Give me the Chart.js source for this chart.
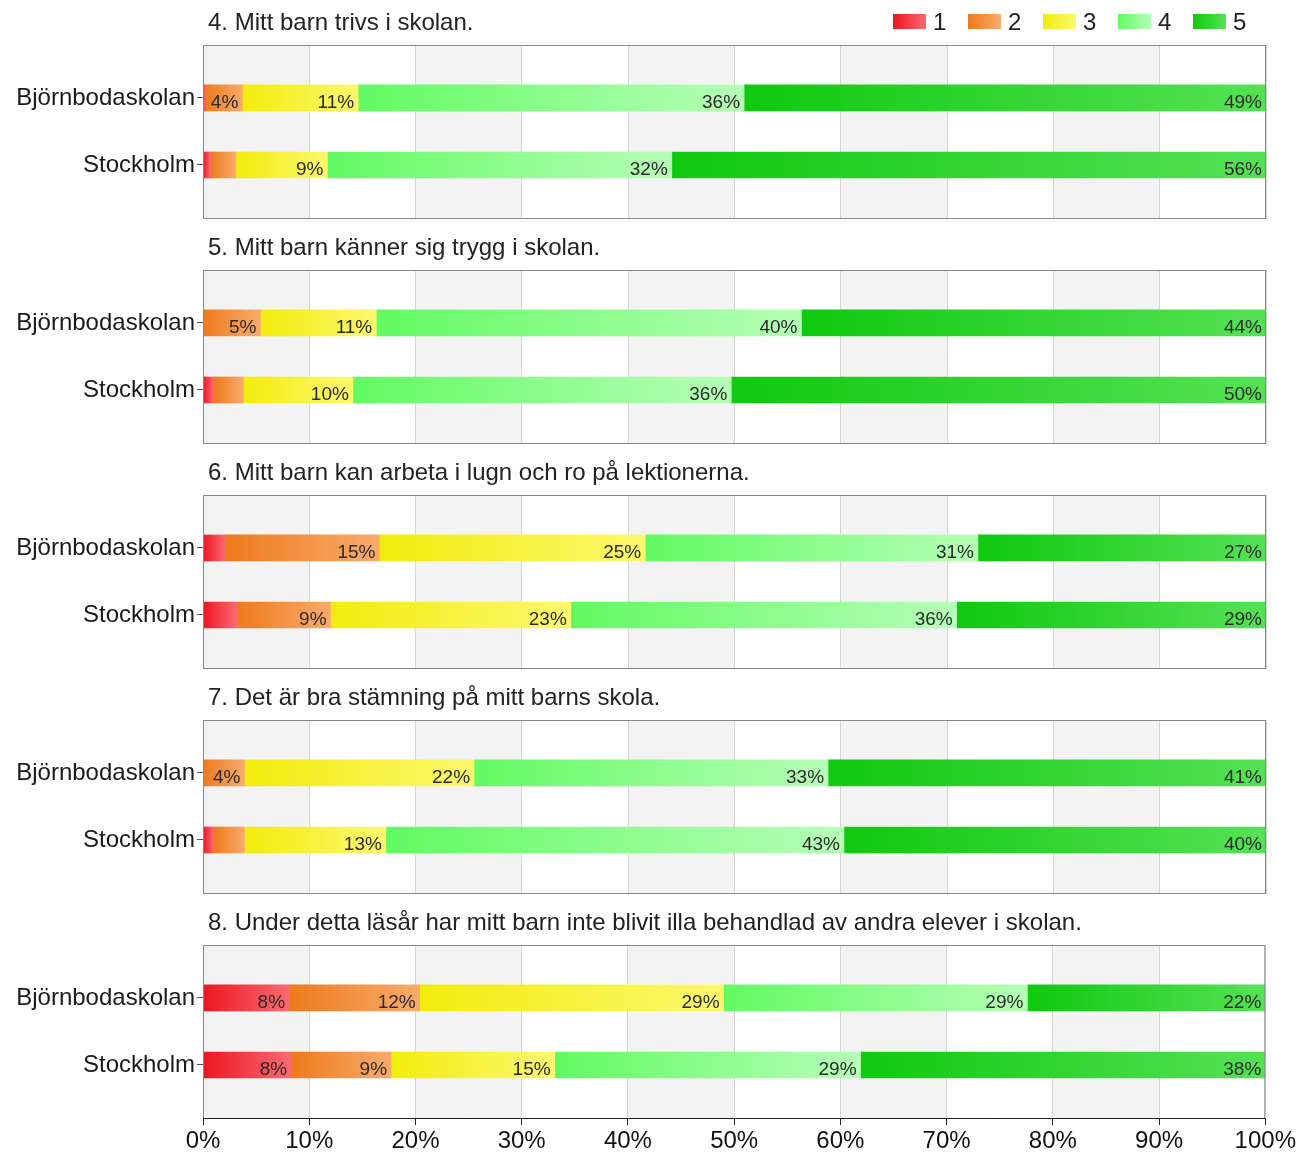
<!DOCTYPE html>
<html lang="sv">
<head>
<meta charset="utf-8">
<title>Enkät</title>
<script src="https://cdn.jsdelivr.net/npm/chart.js@4/dist/chart.umd.min.js"></script>
<style>
  body { margin: 0; background: #fff; }
  #wrap { position: relative; width: 1298px; height: 1153px; }
  #wrap canvas { position: absolute; left: 0; }
</style>
</head>
<body>
<div id="wrap"></div>
<script>
// === Data ===
const titles = [
  '4. Mitt barn trivs i skolan.',
  '5. Mitt barn känner sig trygg i skolan.',
  '6. Mitt barn kan arbeta i lugn och ro på lektionerna.',
  '7. Det är bra stämning på mitt barns skola.',
  '8. Under detta läsår har mitt barn inte blivit illa behandlad av andra elever i skolan.'
];
const groups = ['Björnbodaskolan', 'Stockholm'];
const answers = ['1', '2', '3', '4', '5'];
const xTicks = [0, 10, 20, 30, 40, 50, 60, 70, 80, 90, 100];

// share of answers 1..5 in percent
const q4Bjorn = [0.2, 3.5, 10.9, 36.3, 49.1];
const q4Sthlm = [0.7, 2.4, 8.6, 32.4, 55.9];
const q5Bjorn = [0, 5.4, 10.9, 40.0, 43.7];
const q5Sthlm = [1.0, 2.8, 10.3, 35.6, 50.3];
const q6Bjorn = [2.1, 14.5, 25.0, 31.3, 27.1];
const q6Sthlm = [3.2, 8.8, 22.6, 36.3, 29.1];
const q7Bjorn = [0, 3.9, 21.6, 33.3, 41.2];
const q7Sthlm = [1.0, 2.9, 13.3, 43.1, 39.7];
const q8Bjorn = [8.1, 12.3, 28.6, 28.6, 22.4];
const q8Sthlm = [8.3, 9.4, 15.4, 28.8, 38.1];

const panels = [
  [q4Bjorn, q4Sthlm],
  [q5Bjorn, q5Sthlm],
  [q6Bjorn, q6Sthlm],
  [q7Bjorn, q7Sthlm],
  [q8Bjorn, q8Sthlm]
];

// === Styles ===
const FONT = "'Liberation Sans', Arial, sans-serif";
const colorPairs = [
  ['#ec1620', '#fb6a74'],
  ['#ee7a1c', '#f8ab6c'],
  ['#f2ec0c', '#fcf86e'],
  ['#62fa62', '#b6ffb6'],
  ['#0fc90f', '#55e255']
];
const PANEL_H = 225;
const LAST_H = 253;

function makeGradient(ctx, x0, x1, pair) {
  const g = ctx.createLinearGradient(x0, 0, x1, 0);
  g.addColorStop(0, pair[0]);
  g.addColorStop(1, pair[1]);
  return g;
}

// stripes behind the bars + frame around the plot
const plotFrame = {
  id: 'plotFrame',
  beforeDraw(chart) {
    const { ctx, chartArea, scales } = chart;
    ctx.save();
    ctx.fillStyle = '#f3f3f3';
    for (let v = 0; v < 100; v += 20) {
      const a = scales.x.getPixelForValue(v);
      const b = scales.x.getPixelForValue(v + 10);
      ctx.fillRect(a, chartArea.top, b - a, chartArea.bottom - chartArea.top);
    }
    ctx.restore();
  },
  afterDatasetsDraw(chart, args, opts) {
    const { ctx, chartArea } = chart;
    ctx.save();
    ctx.strokeStyle = '#888';
    ctx.lineWidth = 1;
    ctx.strokeRect(chartArea.left + 0.5, chartArea.top + 0.5,
      chartArea.right - chartArea.left - 1, chartArea.bottom - chartArea.top - 1);
    if (opts.last) {
      ctx.strokeStyle = '#222';
      ctx.beginPath();
      ctx.moveTo(chartArea.left, chartArea.bottom - 0.5);
      ctx.lineTo(chartArea.right, chartArea.bottom - 0.5);
      ctx.stroke();
    }
    ctx.restore();
  }
};

// percentage labels at the right end of each segment
const valueLabels = {
  id: 'valueLabels',
  afterDatasetsDraw(chart) {
    const { ctx } = chart;
    ctx.save();
    ctx.font = '19px ' + FONT;
    ctx.fillStyle = '#2a2a2a';
    ctx.textAlign = 'right';
    ctx.textBaseline = 'alphabetic';
    chart.data.datasets.forEach((ds, di) => {
      chart.getDatasetMeta(di).data.forEach((bar, i) => {
        const pct = Math.round(ds.data[i].x);
        if (pct < 4) return;
        ctx.fillText(pct + '%', bar.x - 4, bar.y + 10);
      });
    });
    ctx.restore();
  }
};

// question title and (first panel only) legend
const header = {
  id: 'header',
  afterDraw(chart, args, opts) {
    const { ctx } = chart;
    ctx.save();
    ctx.font = '24px ' + FONT;
    ctx.fillStyle = '#222';
    ctx.textBaseline = 'alphabetic';
    ctx.fillText(opts.title, 208, 30);
    if (opts.legend) {
      answers.forEach((a, i) => {
        const x = 893 + i * 75;
        ctx.fillStyle = makeGradient(ctx, x, x + 33, colorPairs[i]);
        ctx.fillRect(x, 14, 33, 15);
        ctx.fillStyle = '#222';
        ctx.fillText(a, x + 40, 30);
      });
    }
    ctx.restore();
  }
};

const wrap = document.getElementById('wrap');

panels.forEach((rows, p) => {
  const last = p === panels.length - 1;
  const canvas = document.createElement('canvas');
  canvas.width = 1298;
  canvas.height = last ? LAST_H : PANEL_H;
  canvas.style.top = (p * PANEL_H) + 'px';
  wrap.appendChild(canvas);

  const datasets = answers.map((a, k) => ({
    label: a,
    data: groups.map((g, gi) => ({ x: rows[gi][k], y: gi })),
    barThickness: 26,
    borderWidth: 0,
    backgroundColor: (c) => {
      const chart = c.chart;
      if (!chart.chartArea || c.dataIndex === undefined) return colorPairs[k][0];
      const row = rows[c.dataIndex];
      const start = row.slice(0, k).reduce((s, v) => s + v, 0);
      const x0 = chart.scales.x.getPixelForValue(start);
      const x1 = chart.scales.x.getPixelForValue(start + row[k]);
      return makeGradient(chart.ctx, x0, x1 > x0 ? x1 : x0 + 1, colorPairs[k]);
    }
  }));

  new Chart(canvas, {
    type: 'bar',
    data: { datasets },
    options: {
      indexAxis: 'y',
      responsive: false,
      animation: false,
      layout: { padding: { top: 45, right: 32, left: 0, bottom: 0 } },
      plugins: {
        legend: { display: false },
        tooltip: { enabled: false },
        header: { title: titles[p], legend: p === 0 },
        plotFrame: { last }
      },
      scales: {
        x: {
          type: 'linear',
          min: 0,
          max: 100,
          stacked: true,
          border: { display: false },
          grid: { color: '#d6d6d6', drawTicks: last, tickLength: 6, tickColor: '#222' },
          afterBuildTicks: (s) => { s.ticks = xTicks.map(v => ({ value: v })); },
          ticks: {
            display: last,
            autoSkip: false,
            maxRotation: 0,
            padding: 2,
            color: '#111',
            font: { family: FONT, size: 24 },
            callback: (v) => v + '%'
          },
          afterFit: (s) => { s.height = last ? 34 : 6; }
        },
        y: {
          type: 'linear',
          reverse: true,
          offset: false,
          min: -0.79,
          max: 1.806,
          stacked: true,
          border: { display: false },
          grid: { offset: false, drawOnChartArea: false, drawTicks: true, tickLength: 6, tickColor: '#555' },
          afterBuildTicks: (s) => { s.ticks = groups.map((g, i) => ({ value: i })); },
          ticks: {
            padding: 2,
            color: '#1a1a1a',
            font: { family: FONT, size: 24 },
            callback: (v) => groups[v]
          },
          afterFit: (s) => {
            s.width = 203;
            s.paddingTop = 0;
            s.paddingBottom = 0;
          }
        }
      }
    },
    plugins: [plotFrame, valueLabels, header]
  });
});
</script>
</body>
</html>
